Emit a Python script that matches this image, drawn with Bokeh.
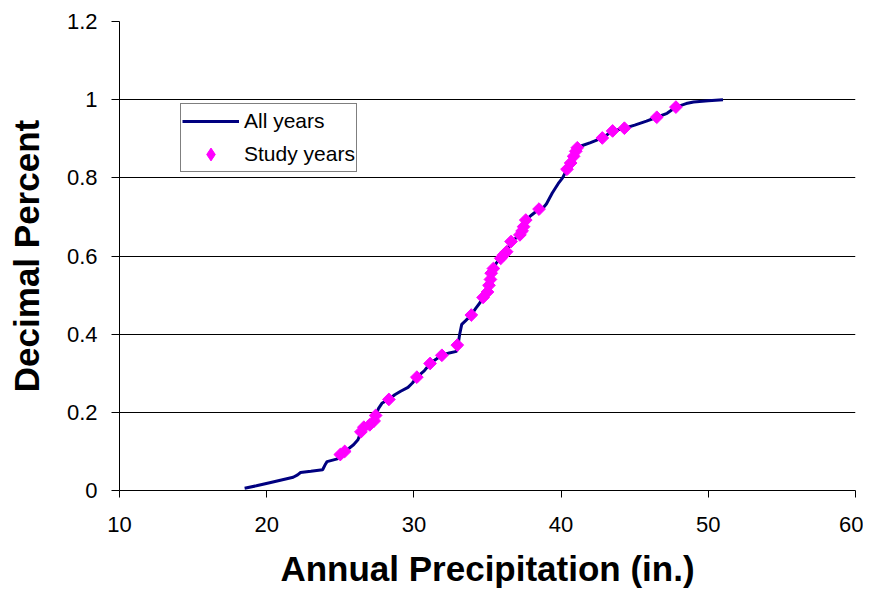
import numpy as np
from bokeh.plotting import figure
from bokeh.models import FixedTicker, Legend, LegendItem, Range1d
from bokeh.embed import file_html
from bokeh.resources import INLINE

# ---- data ----
all_precip = [18.5, 19.3, 20.2, 21.0, 21.8, 22.1, 22.3, 23.0, 23.8, 24.0,
              24.1, 24.8, 25.0, 25.3, 25.6, 25.9, 26.2, 26.4, 26.6, 26.8,
              27.0, 27.3, 27.4, 27.6, 27.85, 28.3, 28.7, 29.1, 29.6, 29.9,
              30.2, 30.7, 31.1, 31.5, 31.9, 32.4, 32.9, 33.0, 33.1, 33.25,
              33.5, 33.9, 34.2, 34.5, 34.7, 35.0, 35.1, 35.2, 35.25, 35.4,
              35.6, 35.9, 36.1, 36.3, 36.6, 36.9, 37.2, 37.35, 37.45, 37.6,
              38.0, 38.5, 38.8, 39.0, 39.4, 39.8, 40.1, 40.4, 40.65, 40.85,
              41.0, 41.1, 41.4, 42.0, 42.8, 43.5, 44.3, 45.0, 45.8, 46.5,
              47.2, 47.8, 48.5, 49.0, 50.0, 51.0]
all_cdf = [0.006, 0.012, 0.020, 0.027, 0.034, 0.040, 0.046, 0.049, 0.053, 0.068,
           0.074, 0.081, 0.092, 0.100, 0.108, 0.117, 0.130, 0.150, 0.160, 0.164,
           0.168, 0.178, 0.192, 0.210, 0.224, 0.233, 0.245, 0.254, 0.264, 0.275,
           0.290, 0.306, 0.325, 0.336, 0.346, 0.352, 0.356, 0.372, 0.398, 0.425,
           0.434, 0.449, 0.466, 0.481, 0.494, 0.508, 0.525, 0.540, 0.556, 0.568,
           0.582, 0.594, 0.603, 0.611, 0.637, 0.645, 0.654, 0.664, 0.675, 0.692,
           0.705, 0.720, 0.724, 0.733, 0.761, 0.785, 0.800, 0.822, 0.838, 0.855,
           0.868, 0.877, 0.882, 0.890, 0.902, 0.920, 0.927, 0.935, 0.945, 0.955,
           0.965, 0.981, 0.990, 0.994, 0.997, 1.000]

study_precip = [25.0, 25.3, 26.4, 26.6, 27.0, 27.3, 27.4, 28.3, 30.2, 31.1,
                31.9, 32.95, 33.9, 34.7, 35.0, 35.1, 35.2, 35.25, 35.4, 35.9,
                36.1, 36.3, 36.6, 37.2, 37.35, 37.45, 37.6, 38.5, 40.4, 40.65,
                40.85, 41.0, 41.1, 42.8, 43.5, 44.3, 46.5, 47.8]
study_cdf = [0.092, 0.100, 0.150, 0.162, 0.168, 0.178, 0.192, 0.233, 0.290, 0.325,
             0.346, 0.372, 0.449, 0.494, 0.508, 0.525, 0.540, 0.556, 0.568, 0.594,
             0.603, 0.611, 0.637, 0.654, 0.664, 0.675, 0.692, 0.720, 0.822, 0.838,
             0.855, 0.868, 0.877, 0.902, 0.920, 0.927, 0.955, 0.981]

x_ticks = [10, 20, 30, 40, 50, 60]
y_ticks = [0, 0.2, 0.4, 0.6, 0.8, 1.0, 1.2]
y_tick_labels = ["0", "0.2", "0.4", "0.6", "0.8", "1", "1.2"]

FONT = "Liberation Sans"

p = figure(width=863, height=591, output_backend="svg", toolbar_location=None,
           x_range=Range1d(10, 60), y_range=Range1d(0, 1.2),
           min_border_left=119, min_border_right=8, min_border_top=21,
           min_border_bottom=101)
p.outline_line_color = None
p.background_fill_color = "white"
p.border_fill_color = "white"

# grid
p.xgrid.grid_line_color = None
p.ygrid.grid_line_color = "black"
p.ygrid.grid_line_width = 1
p.ygrid.ticker = FixedTicker(ticks=y_ticks)

# axes
for ax in (p.xaxis[0], p.yaxis[0]):
    ax.axis_line_color = "black"
    ax.axis_line_width = 1
    ax.major_tick_line_color = "black"
    ax.major_tick_in = 0
    ax.minor_tick_line_color = None
    ax.major_label_text_font = FONT
    ax.major_label_text_font_size = "22px"
    ax.major_label_text_color = "black"
    ax.axis_label_text_font = FONT
    ax.axis_label_text_font_style = "bold"
    ax.axis_label_text_font_size = "35px"
    ax.axis_label_text_color = "black"

p.xaxis.ticker = FixedTicker(ticks=x_ticks)
p.xaxis.major_tick_out = 7
p.xaxis.major_label_standoff = 19
p.xaxis.axis_label = "Annual Precipitation (in.)"
p.xaxis.axis_label_standoff = 14

p.yaxis.ticker = FixedTicker(ticks=y_ticks)
p.yaxis.major_label_overrides = {t: l for t, l in zip(y_ticks, y_tick_labels)}
p.yaxis.major_tick_out = 8
p.yaxis.major_label_standoff = 14
p.yaxis.axis_label = "Decimal Percent"
p.yaxis.axis_label_standoff = 18

# data
line_r = p.line(all_precip, all_cdf, line_color="#000080", line_width=3)
pts_r = p.scatter(study_precip, study_cdf, marker="square", angle=np.pi / 4,
                  size=9, fill_color="#FF00FF", line_color="#FF00FF")
# same points as a zero-size diamond glyph: only its legend swatch is seen
pts_key = p.scatter(study_precip, study_cdf, marker="diamond", size=0,
                    fill_color="#FF00FF", line_color="#FF00FF")

legend = Legend(items=[LegendItem(label="All years", renderers=[line_r]),
                       LegendItem(label="Study years", renderers=[pts_key])],
                location=(61, 318))
legend.border_line_color = "black"
legend.border_line_width = 1
legend.background_fill_color = "white"
legend.background_fill_alpha = 1
legend.label_text_font = FONT
legend.label_text_font_size = "21px"
legend.label_text_color = "black"
legend.glyph_width = 57
legend.glyph_height = 32
legend.label_height = 32
legend.spacing = 1
legend.padding = 1
legend.margin = 0
legend.label_standoff = 5
p.add_layout(legend, "center")

open("out.html", "w").write(file_html(p, INLINE))
